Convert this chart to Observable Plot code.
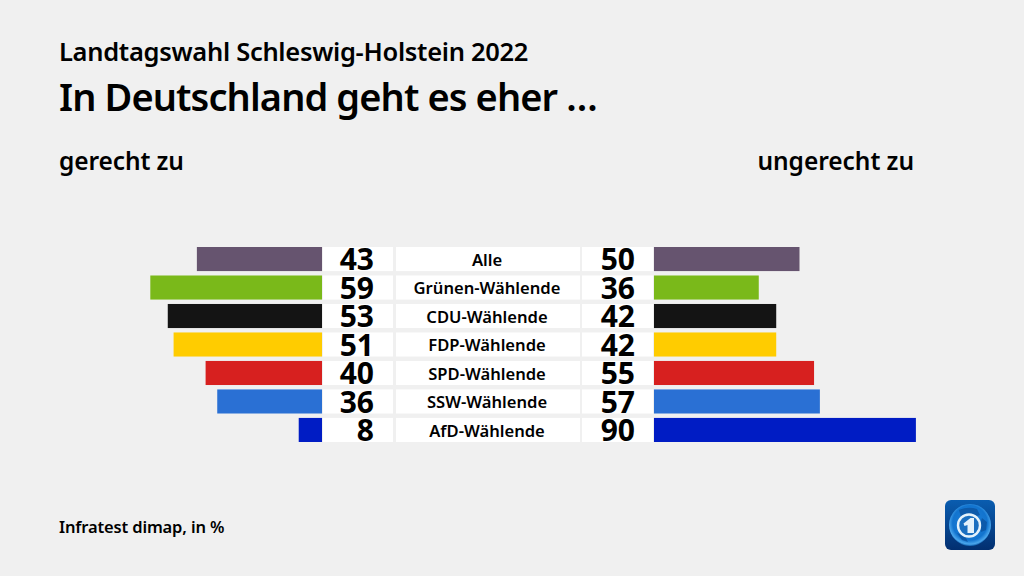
<!DOCTYPE html>
<html lang="de"><head><meta charset="utf-8">
<script src="https://cdn.jsdelivr.net/npm/d3@7"></script>
<script src="https://cdn.jsdelivr.net/npm/@observablehq/plot@0.6"></script>
<style>
html,body{margin:0;padding:0;background:#f0f0f0;width:1024px;height:576px;overflow:hidden;font-family:"Noto Sans",sans-serif;color:#000}
#chart{position:absolute;left:0;top:0}
.t{position:absolute;white-space:nowrap;line-height:1}
#sup{left:59px;top:39px;font-size:25.5px;font-weight:600;letter-spacing:-.3px}
#title{left:59px;top:77px;font-size:38px;font-weight:600;letter-spacing:-.9px}
#l{left:59px;top:149px;font-size:24.5px;font-weight:600;letter-spacing:-.1px}
#r{right:110px;top:149px;font-size:24.5px;font-weight:600;letter-spacing:-.05px}
#src{left:59px;top:519px;font-size:16.5px;font-weight:600;letter-spacing:-.15px}
#logo{position:absolute;left:945px;top:500px}
</style></head><body>
<div id="chart"></div>
<div class="t" id="sup">Landtagswahl Schleswig-Holstein 2022</div>
<div class="t" id="title">In Deutschland geht es eher …</div>
<div class="t" id="l">gerecht zu</div>
<div class="t" id="r">ungerecht zu</div>
<div class="t" id="src">Infratest dimap, in %</div>
<svg id="logo" width="50" height="50" viewBox="0 0 50 50">
<defs>
<linearGradient id="bg" x1="0" y1="0" x2="0" y2="1"><stop offset="0" stop-color="#0a5db0"/><stop offset="1" stop-color="#022f70"/></linearGradient>
<radialGradient id="gl" cx=".5" cy=".45" r=".55"><stop offset="0" stop-color="#1f7fd6"/><stop offset=".75" stop-color="#1274cf"/><stop offset=".92" stop-color="#4aa6ec"/><stop offset="1" stop-color="#0d5ba9"/></radialGradient>
</defs>
<rect width="50" height="50" rx="6" fill="url(#bg)"/>
<circle cx="25" cy="25" r="21" fill="url(#gl)"/>
<path d="M14 10q9-4 18-1l3 6-6 2-6-3-7 3zM37 18l5 4-1 8-5 2-1-8zM12 33l8 3 3 6-6-2z" fill="#0a4f9a" opacity=".7"/>
<circle cx="24" cy="25.5" r="11" fill="#1a6fc0" stroke="#e4f2fb" stroke-width="2.4"/>
<path d="M18.5 23.5l7-5.5h3.5v15h-6.5v-8l-3 1z" fill="#e4f2fb"/>
</svg>
<script>
const groups = ["Alle","Grünen-Wählende","CDU-Wählende","FDP-Wählende","SPD-Wählende","SSW-Wählende","AfD-Wählende"];
const gerecht = [43,59,53,51,40,36,8];
const ungerecht = [50,36,42,42,55,57,90];
const colors = ["#66546f","#7ab91a","#141414","#ffcc00","#d7201f","#2a70d4","#001cc4"];

const unit = 2.91;                 // pixels per percentage point
const zeroLeft = 322, zeroRight = 654;
const rows = groups.map((g,i)=>({g, a:gerecht[i], b:ungerecht[i], c:colors[i]}));
const px = p => (p - zeroLeft) / unit;
const cells = [[323,393],[396,580],[582,653]];
const numFont = {fontFamily:'"Noto Sans",sans-serif', fontWeight:700, fontSize:30, fill:"#000", textAnchor:"end"};

const plot = Plot.plot({
  width:1024, height:576,
  marginTop:0, marginBottom:0, marginLeft:0, marginRight:0,
  style:{background:"transparent"},
  x:{axis:null, domain:[px(0),px(1024)], range:[0,1024]},
  y:{axis:null, domain:groups, range:[244.8,444.2], round:false, paddingInner:.155, paddingOuter:.0775},
  marks:[
    ...cells.map(([a,b])=>Plot.barX(rows,{y:"g",x1:()=>px(a),x2:()=>px(b),fill:"#ffffff"})),
    Plot.barX(rows,{y:"g",x1:()=>0,x2:d=>-d.a,fill:"c"}),
    Plot.barX(rows,{y:"g",x1:()=>0,x2:"b",fill:"c",dx:zeroRight-zeroLeft}),
    Plot.text(rows,{y:"g",x:()=>0,text:"a",dx:51.5,dy:1,...numFont}),
    Plot.text(rows,{y:"g",x:()=>0,text:"b",dx:312.5,dy:1,...numFont}),
    Plot.text(rows,{y:"g",x:()=>0,text:"g",dx:164.5,dy:1,fontFamily:'"Noto Sans",sans-serif',fontWeight:600,fontSize:16.6,fill:"#000",textAnchor:"middle"})
  ]
});
document.getElementById("chart").append(plot);
</script>
</body></html>
